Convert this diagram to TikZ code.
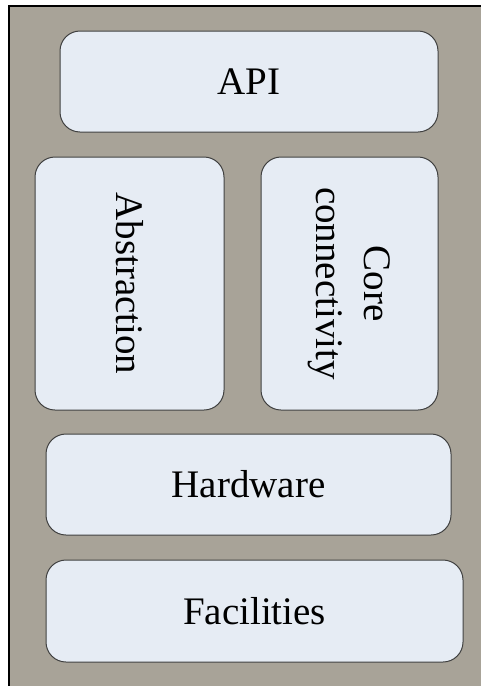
\documentclass[tikz,border=0pt]{standalone}
\usepackage{fontspec}
\setmainfont{Liberation Serif}
\usepackage{xcolor}
\usepackage{tikz}
\definecolor{framegray}{RGB}{168,163,152}
\definecolor{boxfill}{RGB}{230,236,244}
\tikzstyle{frame}=[draw=black,line width=1.3pt,fill=framegray]
\tikzstyle{layer}=[draw=black!75,line width=1pt,fill=boxfill,rounded corners=20pt,
  inner sep=0pt,align=center,font=\fontsize{39}{48}\selectfont]
\tikzstyle{upright}=[layer,rotate=-90]

\begin{document}
\begin{tikzpicture}[x=1pt,y=-1pt]
	\clip (0,0) rectangle (481,686);
	\draw[frame] (9,6) rectangle (500,700);
	\node[layer,minimum width=378pt,minimum height=101pt] (api) at (249,81.5) {API};
	\node[upright,minimum width=253pt,minimum height=189pt] (abstr) at (129.5,283.5) {Abstraction};
	\node[upright,minimum width=253pt,minimum height=177pt] (core) at (349.5,283.5) {Core\\connectivity};
	\node[layer,minimum width=405pt,minimum height=101pt] (hw) at (248.5,484.5) {Hardware};
	\node[layer,minimum width=417pt,minimum height=102pt] (fac) at (254.5,611) {Facilities};
\end{tikzpicture}
\end{document}
